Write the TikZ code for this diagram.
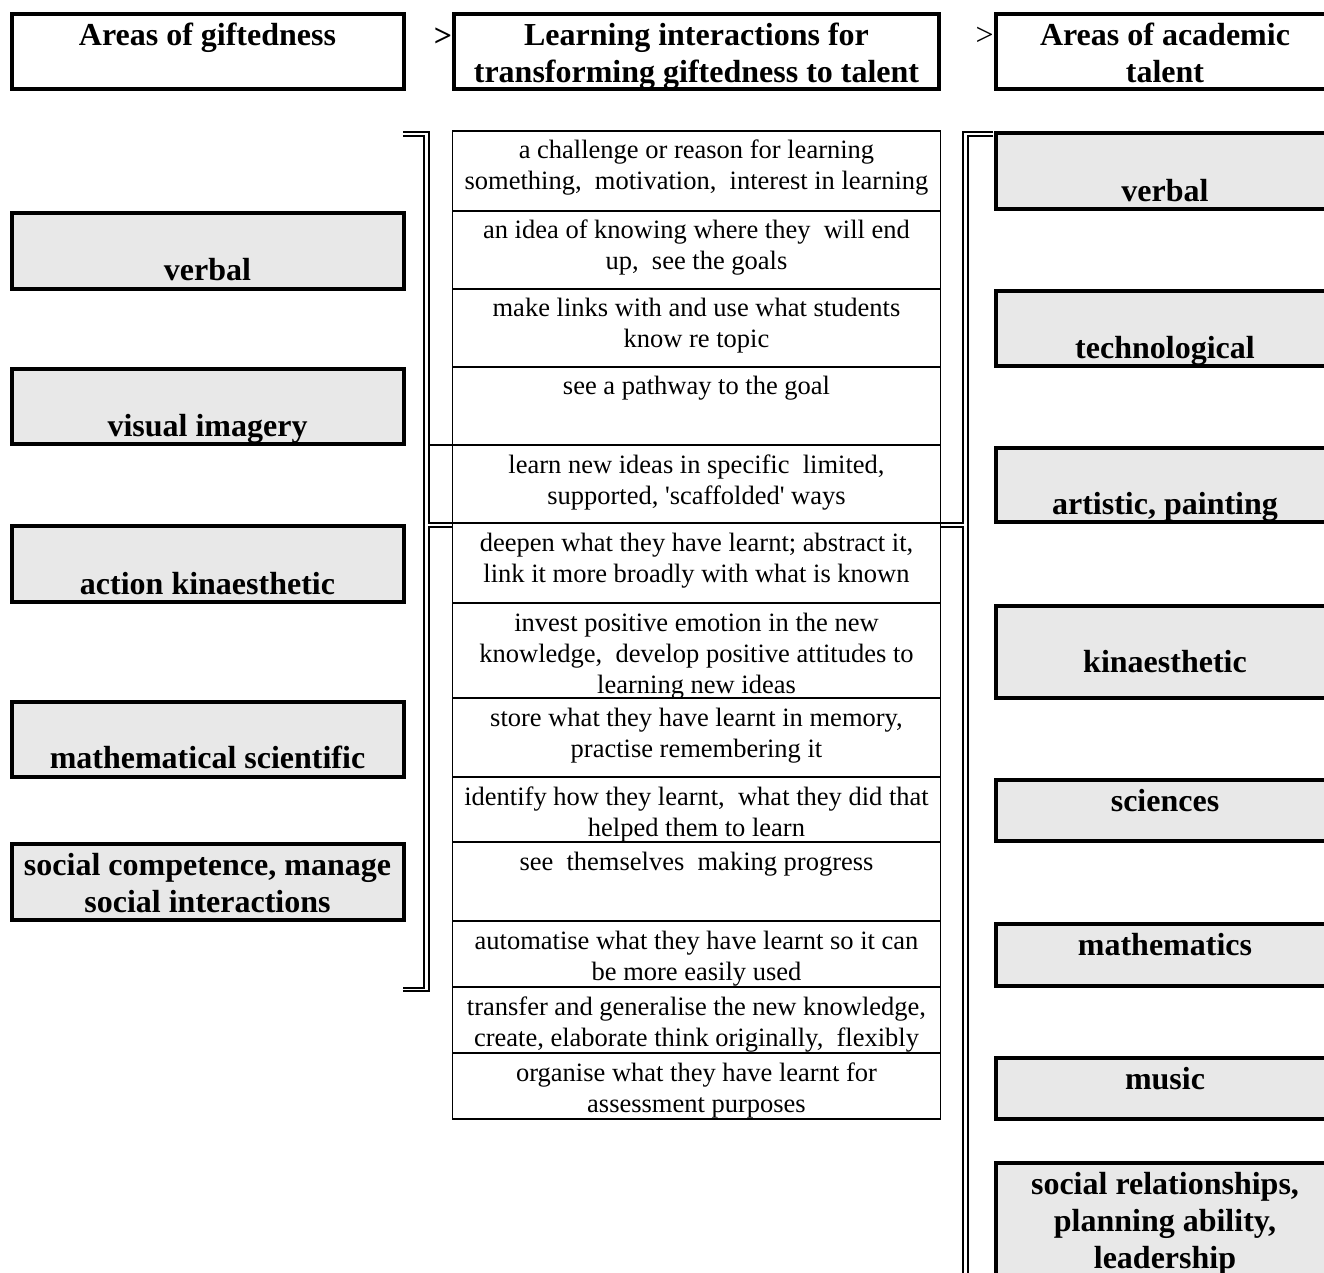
\documentclass[tikz,border=0pt]{standalone}
\usepackage{fontspec}
\setmainfont{Liberation Serif}
\usepackage{xcolor}
\usepackage{tikz}
\definecolor{boxgray}{RGB}{232,232,232}
\tikzset{
  headbox/.style={draw,line width=2pt,fill=white},
  giftbox/.style={draw,line width=2pt,fill=boxgray},
  gridline/.style={line width=0.75pt},
  bracket/.style={line width=0.75pt},
  % anchor=base is the baseline of the last line
  headtext/.style={font=\fontsize{16}{18.5}\selectfont\bfseries,align=center,anchor=base,inner sep=0pt},
  celltext/.style={font=\fontsize{13.25}{15.5}\selectfont,align=center,anchor=base,inner sep=0pt}
}

\begin{document}
\begin{tikzpicture}[x=0.5pt,y=-0.5pt]
\path[use as bounding box,clip] (0,0) rectangle (1324,1273);
% headings
\draw[headbox] (12,14) rectangle (403.5,89);
\draw[headbox] (454,14) rectangle (939,89);
\draw[headbox] (995.5,14) rectangle (1334.5,89);
\node[headtext] (hdgift) at (207.5,46) {Areas of giftedness};
\node[headtext] (hdinter) at (696.5,83) {Learning interactions for\\transforming giftedness to talent};
\node[headtext] (hdtalent) at (1165,83) {Areas of academic\\talent};
\node[headtext,anchor=base east] (gt1) at (452.5,47) {>};
\node[headtext,anchor=base east,font=\fontsize{16}{18.5}\selectfont] (gt2) at (994,46) {>};
% brackets
\draw[bracket] (403,132) -- (429,132) -- (429,523) -- (452.5,523);
\draw[bracket] (452.5,527) -- (429,527) -- (429,991) -- (403,991);
\draw[bracket] (403,136) -- (424,136) -- (424,988) -- (403,988);
\draw[bracket] (429,445) -- (452.5,445);
\draw[bracket] (993,132) -- (963,132) -- (963,523) -- (940.5,523);
\draw[bracket] (940.5,527) -- (963,527) -- (963,1280);
\draw[bracket] (993,136) -- (968,136) -- (968,1280);
% learning interactions
\draw[gridline] (452.5,131) rectangle (940.5,1119);
\foreach \y in {211,289,367,445,523,603,698,777,842,921,987,1053}
  \draw[gridline] (452.5,\y) -- (940.5,\y);
\foreach \i/\ya/\n/\txt in {
  1/131/2/{a challenge or reason for learning\\something, \ motivation, \ interest in learning},
  2/211/2/{an idea of knowing where they \ will end\\up, \ see the goals},
  3/289/2/{make links with and use what students\\know re topic},
  4/367/1/{see a pathway to the goal},
  5/445/2/{learn new ideas in specific \ limited,\\supported, \textquotesingle scaffolded\textquotesingle{} ways},
  6/523/2/{deepen what they have learnt; abstract it,\\link it more broadly with what is known},
  7/603/3/{invest positive emotion in the new\\knowledge, \ develop positive attitudes to\\learning new ideas},
  8/698/2/{store what they have learnt in memory,\\practise remembering it},
  9/777/2/{identify how they learnt, \ what they did that\\helped them to learn},
  10/842/1/{see \ themselves \ making progress},
  11/921/2/{automatise what they have learnt so it can\\be more easily used},
  12/987/2/{transfer and generalise the new knowledge,\\create, elaborate think originally, \ flexibly},
  13/1053/2/{organise what they have learnt for\\assessment purposes}}
  \node[celltext] (inter\i) at (696.5,\ya+28+31*\n-31) {\txt};
% areas of giftedness
\foreach \i/\ya/\yb/\dy/\txt in {
  1/211/291/70/verbal,
  2/367/446/70/visual imagery,
  3/524/604/70/action kinaesthetic,
  4/700/779/68/mathematical scientific,
  5/842/922/70/{social competence, manage\\social interactions}}{
  \draw[giftbox] (12,\ya+2) rectangle (403.5,\yb-2);
  \node[headtext] (gift\i) at (207.5,\ya+\dy) {\txt};
}
% areas of academic talent
\foreach \i/\ya/\yb/\dy/\txt in {
  1/131/211/71/verbal,
  2/289/368/70/technological,
  3/446/524/69/{artistic, painting},
  4/604/700/68/kinaesthetic,
  5/778/843/33/sciences,
  6/922/988/33/mathematics,
  7/1056/1121/33/music,
  8/1161/1320/107/{social relationships,\\planning ability,\\leadership}}{
  \draw[giftbox] (995.5,\ya+2) rectangle (1334.5,\yb-2);
  \node[headtext] (talent\i) at (1165,\ya+\dy) {\txt};
}
\end{tikzpicture}
\end{document}
